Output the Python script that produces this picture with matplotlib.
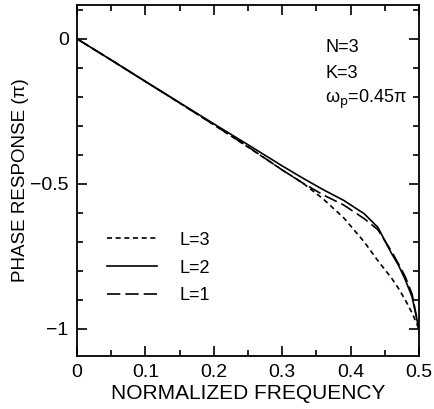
import matplotlib
matplotlib.use("Agg")
import matplotlib.pyplot as plt
from matplotlib.ticker import MultipleLocator

plt.rcParams['font.family'] = ['Liberation Sans', 'DejaVu Sans']

# normalized frequency samples
freq = [0, 0.05, 0.1, 0.15, 0.2, 0.25, 0.3, 0.33, 0.36, 0.39, 0.42, 0.44, 0.46, 0.47, 0.48, 0.49, 0.5]

# phase response (units of pi)
phase_l3 = [0, -0.073, -0.147, -0.221, -0.296, -0.373, -0.452, -0.497, -0.552, -0.617, -0.7, -0.765, -0.825, -0.86, -0.9, -0.945, -1.0]
phase_l2 = [0, -0.073, -0.147, -0.22, -0.293, -0.365, -0.438, -0.48, -0.52, -0.557, -0.603, -0.65, -0.74, -0.78, -0.83, -0.89, -1.0]
phase_l1 = [0, -0.073, -0.147, -0.221, -0.296, -0.372, -0.452, -0.497, -0.538, -0.573, -0.62, -0.658, -0.733, -0.775, -0.82, -0.88, -1.0]

xticks = [0, 0.1, 0.2, 0.3, 0.4, 0.5]
yticks = [0, -0.5, -1]
ytick_labels = ["0", "\u22120.5", "\u22121"]

fig = plt.figure(figsize=(4.35, 4.09), dpi=100)
ax = fig.add_axes([0.177, 0.130, 0.786, 0.858])

ax.plot(freq, phase_l3, color="black", lw=1.2, dashes=(3, 2.2), label="L=3")
ax.plot(freq, phase_l2, color="black", lw=1.2, label="L=2")
ax.plot(freq, phase_l1, color="black", lw=1.2, dashes=(8, 3), label="L=1")

ax.set_xlim(0, 0.5)
ax.set_ylim(-1.093, 0.117)
ax.set_xticks(xticks)
ax.set_xticklabels([f"{t:g}" for t in xticks])
ax.set_yticks(yticks)
ax.set_yticklabels(ytick_labels)
ax.xaxis.set_minor_locator(MultipleLocator(0.05))
ax.yaxis.set_minor_locator(MultipleLocator(0.1))
ax.tick_params(which="both", direction="in", top=True, right=True, labelsize=14, width=1.2)
ax.tick_params(which="major", length=7, pad=6)
ax.tick_params(which="minor", length=4)
for s in ax.spines.values():
    s.set_linewidth(1.3)

ax.set_xlabel("NORMALIZED FREQUENCY", fontsize=15, labelpad=2)
ax.set_ylabel("PHASE RESPONSE (\u03c0)", fontsize=13.5, labelpad=1)

ax.text(0.363, -0.045, "N=3", fontsize=13)
ax.text(0.363, -0.135, "K=3", fontsize=13)
ax.text(0.363, -0.222, "\u03c9$_\\mathrm{p}$=0.45\u03c0", fontsize=13)

ax.legend(loc="upper left", bbox_to_anchor=(0.04, 0.40), frameon=False, fontsize=13,
          handlelength=2.8, handletextpad=1.2, labelspacing=0.6)

fig.savefig("out.png", dpi=100)
